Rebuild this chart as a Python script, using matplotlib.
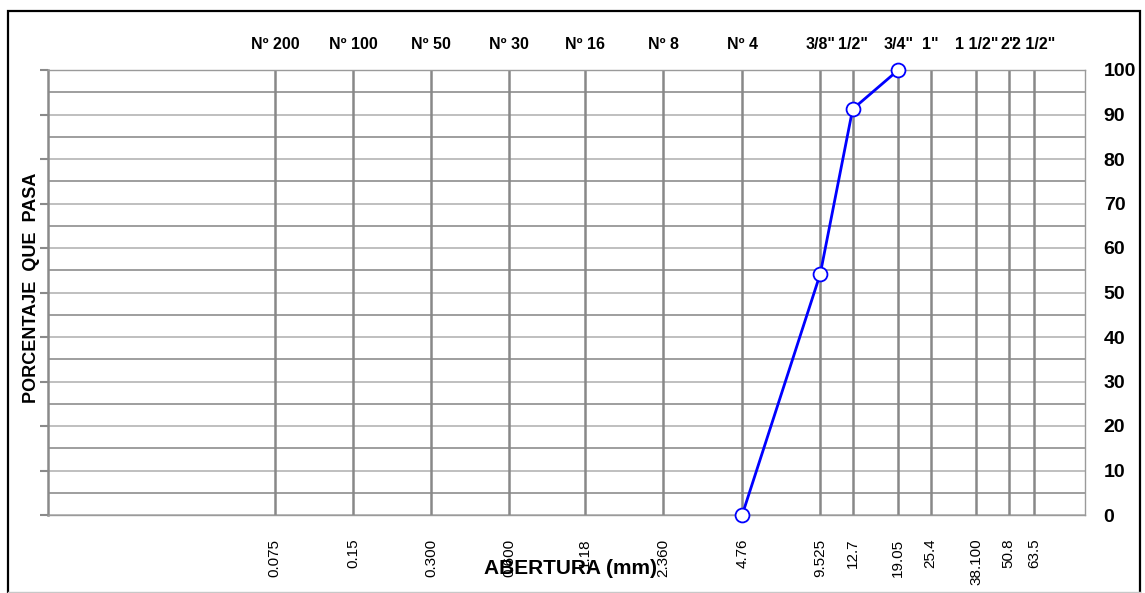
import matplotlib
matplotlib.use("Agg")
import matplotlib.pyplot as plt
from matplotlib.patches import Rectangle
from matplotlib.lines import Line2D
import matplotlib.transforms as mtransforms

plt.rcParams['font.family'] = ['Liberation Sans', 'DejaVu Sans']

# Sieve openings (mm) and their names
sieve_mm = [0.075, 0.15, 0.300, 0.600, 1.18, 2.360, 4.76, 9.525, 12.7, 19.05, 25.4, 38.100, 50.8, 63.5]
sieve_mm_labels = ["0.075", "0.15", "0.300", "0.600", "1.18", "2.360", "4.76",
                   "9.525", "12.7", "19.05", "25.4", "38.100", "50.8", "63.5"]
sieve_names = ["Nº 200", "Nº 100", "Nº 50", "Nº 30", "Nº 16", "Nº 8", "Nº 4",
               "3/8\"", "1/2\"", "3/4\"", "1\"", "1 1/2\"", "2\"", "2 1/2\""]

# Grading curve
curve_mm = [4.76, 9.525, 12.7, 19.05]
curve_pct = [0.0, 54.2, 91.2, 100.0]

fig = plt.figure(figsize=(11.45, 5.93), dpi=100)
W, H = 1145, 593
ax = fig.add_axes([48 / W, 1 - 515 / H, (1085 - 48) / W, (515 - 70) / H])

ax.set_xscale('log')
ax.set_xlim(0.01, 100)
ax.set_ylim(0, 100)

# Horizontal grid: lighter at tens, darker at fives
for y in range(0, 101, 5):
    col = '#b4b4b4' if y % 10 == 0 else '#8e8e8e'
    ax.axhline(y, color=col, lw=1.2, zorder=1)
# Vertical grid at each sieve
for x in sieve_mm:
    ax.axvline(x, color='#888888', lw=1.8, zorder=1)

ax.plot(curve_mm, curve_pct, color='#0000ff', lw=2.0, marker='o', ms=10,
        mfc='white', mec='#0000ff', mew=1.3, zorder=5, clip_on=False)

for s in ax.spines.values():
    s.set_color('#9a9a9a')
    s.set_linewidth(1.0)
ax.spines['left'].set_linewidth(1.8)
ax.spines['left'].set_color('#8a8a8a')

# Bottom axis: opening sizes
ax.set_xticks(sieve_mm)
ax.set_xticklabels(sieve_mm_labels, rotation=90, fontsize=11, va='top')
ax.xaxis.set_minor_locator(matplotlib.ticker.NullLocator())
ax.tick_params(axis='x', length=0, pad=17)

# Y axis: marks on the left, values on the right
ax.set_yticks(range(0, 101, 10))
ax.tick_params(axis='y', which='major', left=True, right=False, labelleft=False,
               labelright=True, direction='out', color='#8a8a8a', width=1.5,
               length=6, pad=7.5)
ax.yaxis.set_minor_locator(matplotlib.ticker.NullLocator())
for t in ax.get_yticklabels():
    t.set_fontsize(14)
    t.set_fontweight('bold')

# Sieve names along the top
trans = mtransforms.blended_transform_factory(ax.transData, ax.transAxes)
for x, name in zip(sieve_mm, sieve_names):
    ax.text(x, 1.058, name, transform=trans, ha='center', va='center',
            fontsize=11.5, fontweight='bold')

fig.text(571 / W, 1 - 569 / H, "ABERTURA (mm)", ha='center', va='center',
         fontsize=15, fontweight='bold', zorder=10)
fig.text(32 / W, 1 - 288 / H, "PORCENTAJE  QUE  PASA", rotation=90, ha='center',
         va='center', fontsize=13, fontweight='bold')

# Outer frame
fig.patches.append(Rectangle((8 / W, -0.05), (1140 - 8) / W, 1 - 11 / H + 0.05,
                             transform=fig.transFigure, fill=False,
                             edgecolor='black', lw=1.6, zorder=0))
fig.lines.append(Line2D([8 / W, 1140 / W], [1 - 592 / H, 1 - 592 / H],
                        transform=fig.transFigure, color='#c8c8c8', lw=1.0))

fig.savefig("out.png", dpi=100)
